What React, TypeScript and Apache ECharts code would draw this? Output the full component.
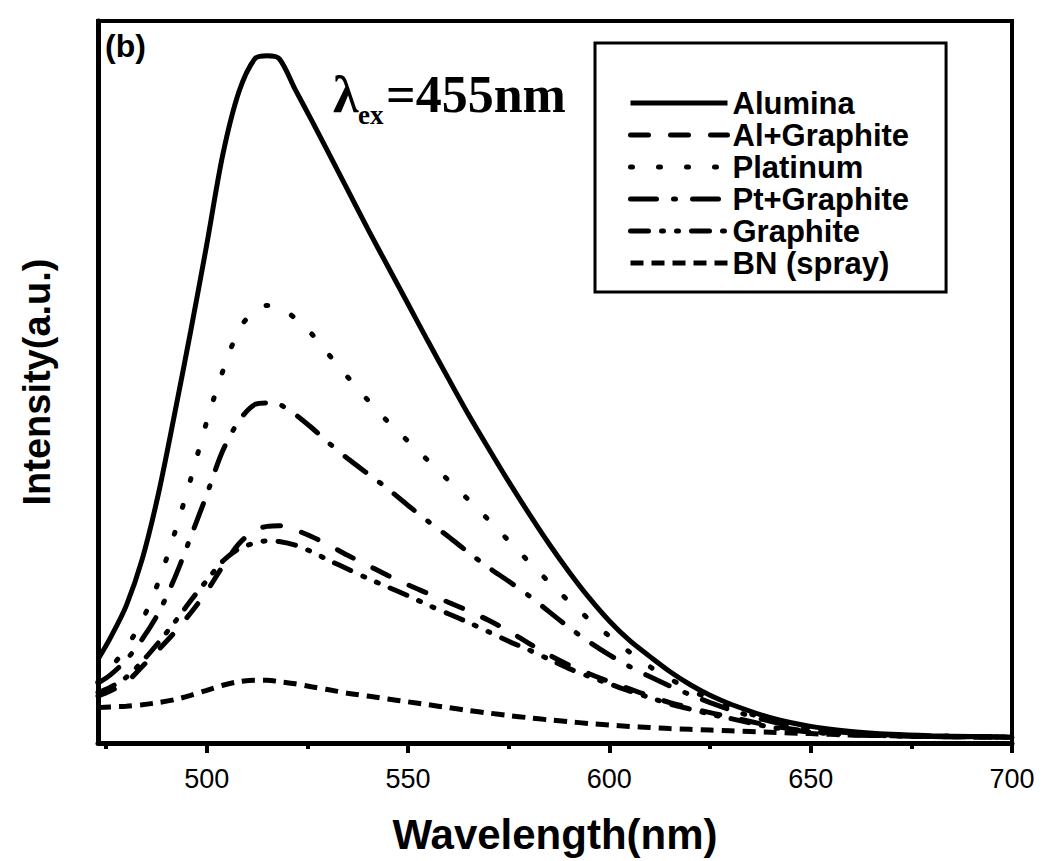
import React, { useEffect, useRef } from "react";
import * as echarts from "echarts";

const wavelengths = [473, 476, 480, 484, 488, 492, 496, 500, 504, 508, 512, 515, 518, 522, 526, 530, 535, 540, 545, 550, 555, 560, 565, 570, 575, 580, 585, 590, 595, 600, 605, 610, 615, 620, 625, 630, 640, 650, 660, 670, 680, 690, 700];

const alumina = [11.6, 14.5, 19, 25.5, 34.5, 45.5, 57, 69, 81.5, 90.2, 94.8, 95.2, 94.8, 90.5, 86.3, 82, 76.6, 71.2, 66, 60.8, 55.6, 50.5, 45.5, 40.8, 36.2, 31.8, 27.6, 23.7, 20.1, 16.9, 14.2, 12, 9.9, 8.1, 6.6, 5.4, 3.5, 2.3, 1.6, 1.2, 1, 0.9, 0.8];
const alGraphite = [6.5, 7.2, 8.4, 10.6, 12.9, 15.3, 18, 21, 24.5, 27.6, 29.5, 30, 30.1, 29.5, 28.6, 27.5, 26, 24.6, 23.2, 21.9, 20.7, 19.5, 18.3, 17, 15.5, 13.8, 12.2, 10.8, 9.6, 8.5, 7.5, 6.5, 5.6, 4.9, 4.2, 3.6, 2.4, 1.6, 1.2, 1, 0.9, 0.85, 0.8];
const platinum = [8.5, 10.3, 13.2, 17, 22.3, 29, 36.5, 44.5, 51.5, 57.2, 60, 60.6, 60.4, 58.8, 56.7, 54, 50.7, 47.5, 44.5, 41.8, 39.1, 36.4, 33.7, 30.9, 28, 25.1, 22.3, 19.6, 17.1, 14.8, 12.6, 10.6, 8.9, 7.4, 6.1, 5, 3.2, 2.1, 1.5, 1.15, 1, 0.9, 0.8];
const ptGraphite = [8.3, 9.4, 11.5, 14.4, 18, 22.8, 28.5, 34.4, 40.5, 44.6, 46.9, 47.1, 46.9, 45.5, 43.7, 41.7, 39.4, 37.3, 35.2, 32.9, 30.7, 28.6, 26.4, 24.3, 22.4, 20.4, 18.2, 16, 14, 12.2, 10.6, 9.2, 7.9, 6.7, 5.6, 4.6, 3, 2, 1.4, 1.1, 0.9, 0.85, 0.8];
const graphite = [7, 7.7, 9.1, 11.3, 13.9, 16.7, 19.7, 22.5, 25.2, 26.9, 27.7, 28, 27.9, 27.4, 26.5, 25.4, 24.1, 22.8, 21.6, 20.4, 19.1, 17.9, 16.7, 15.4, 14.1, 12.9, 11.6, 10.3, 9.2, 8.2, 7.2, 6.3, 5.4, 4.7, 4, 3.4, 2.2, 1.5, 1.15, 1, 0.9, 0.85, 0.8];
const bnSpray = [4.9, 5, 5.1, 5.3, 5.6, 6, 6.6, 7.3, 8, 8.5, 8.7, 8.7, 8.5, 8.2, 7.8, 7.4, 6.9, 6.5, 6.1, 5.7, 5.3, 4.9, 4.5, 4.15, 3.8, 3.5, 3.2, 2.95, 2.7, 2.5, 2.3, 2.15, 2, 1.9, 1.8, 1.7, 1.5, 1.3, 1.1, 1, 0.9, 0.85, 0.8];

const majorTicks = [500, 550, 600, 650, 700];
const minorTicks = [475, 525, 575, 625, 675];

const seriesNames = ["Alumina", "Al+Graphite", "Platinum", "Pt+Graphite", "Graphite", "BN (spray)"];
const seriesValues = [alumina, alGraphite, platinum, ptGraphite, graphite, bnSpray];
const dashPatterns: any[] = ["solid", [18, 22], [2, 26], [26, 17, 2, 17], [18, 13, 2, 13, 2, 13], [13, 8]];
const caps = ["butt", "round", "round", "round", "round", "butt"];

export default function App() {
  const ref = useRef<HTMLDivElement>(null);
  useEffect(() => {
    const chart = echarts.init(ref.current!, null, { renderer: "svg" });
    const series = seriesNames.map((name, i) => ({
      name,
      type: "line",
      symbol: "none",
      smooth: 0.3,
      data: wavelengths.map((w, j) => [w, seriesValues[i][j]]),
      lineStyle: { color: "#000", width: 5, type: dashPatterns[i], cap: caps[i] },
      itemStyle: { color: "#000" },
      z: 3,
    }));
    chart.setOption({
      animation: false,
      backgroundColor: "#fff",
      grid: { left: 98, right: 35, top: 21, bottom: 118, show: true, borderColor: "#000", borderWidth: 4 },
      xAxis: [
        {
          type: "value",
          min: 473,
          max: 700,
          position: "bottom",
          name: "Wavelength(nm)",
          nameLocation: "middle",
          nameGap: 70,
          nameTextStyle: { fontFamily: "Liberation Sans, Arial", fontWeight: "bold", fontSize: 42, color: "#000" },
          axisLine: { show: true, lineStyle: { color: "#000", width: 5 } },
          axisTick: { show: true, customValues: majorTicks, length: 10, lineStyle: { color: "#000", width: 4 } },
          axisLabel: { show: true, customValues: majorTicks, margin: 22, fontSize: 27, color: "#000", fontFamily: "Liberation Sans, Arial" },
          splitLine: { show: false },
        },
        {
          type: "value",
          min: 473,
          max: 700,
          position: "bottom",
          axisLine: { show: false },
          axisTick: { show: true, customValues: minorTicks, length: 6, lineStyle: { color: "#000", width: 4 } },
          axisLabel: { show: false },
          splitLine: { show: false },
        },
      ],
      yAxis: {
        type: "value",
        min: 0,
        max: 100,
        name: "Intensity(a.u.)",
        nameLocation: "middle",
        nameGap: 42,
        nameTextStyle: { fontFamily: "Liberation Sans, Arial", fontWeight: "bold", fontSize: 38, color: "#000" },
        axisLine: { show: true, lineStyle: { color: "#000", width: 5 } },
        axisTick: { show: false },
        axisLabel: { show: false },
        splitLine: { show: false },
      },
      legend: {
        orient: "vertical",
        left: 595,
        top: 43,
        data: seriesNames,
        itemWidth: 97,
        itemHeight: 14,
        itemGap: 0,
        padding: [44, 37, 13, 33],
        backgroundColor: "#fff",
        borderColor: "#000",
        borderWidth: 3,
        borderRadius: 0,
        selectedMode: false,
        itemStyle: { opacity: 0 },
        lineStyle: { width: 5 },
        textStyle: { fontFamily: "Liberation Sans, Arial", fontWeight: "bold", fontSize: 31, color: "#000", lineHeight: 32 },
      },
      graphic: [
        { type: "text", left: 105, top: 30, style: { text: "(b)", font: "bold 32px 'Liberation Sans', Arial", fill: "#000" } },
        { type: "text", left: 333, top: 68, style: { text: "λ", font: "bold 52px 'Liberation Serif', 'Times New Roman'", fill: "#000" } },
        { type: "text", left: 358, top: 101, style: { text: "ex", font: "bold 27px 'Liberation Serif', 'Times New Roman'", fill: "#000" } },
        { type: "text", left: 386, top: 68, style: { text: "=455nm", font: "bold 52px 'Liberation Serif', 'Times New Roman'", fill: "#000" } },
      ],
      series,
    });
    return () => chart.dispose();
  }, []);
  return <div ref={ref} style={{ position: "absolute", left: 0, top: 0, width: 1047, height: 861 }} />;
}
